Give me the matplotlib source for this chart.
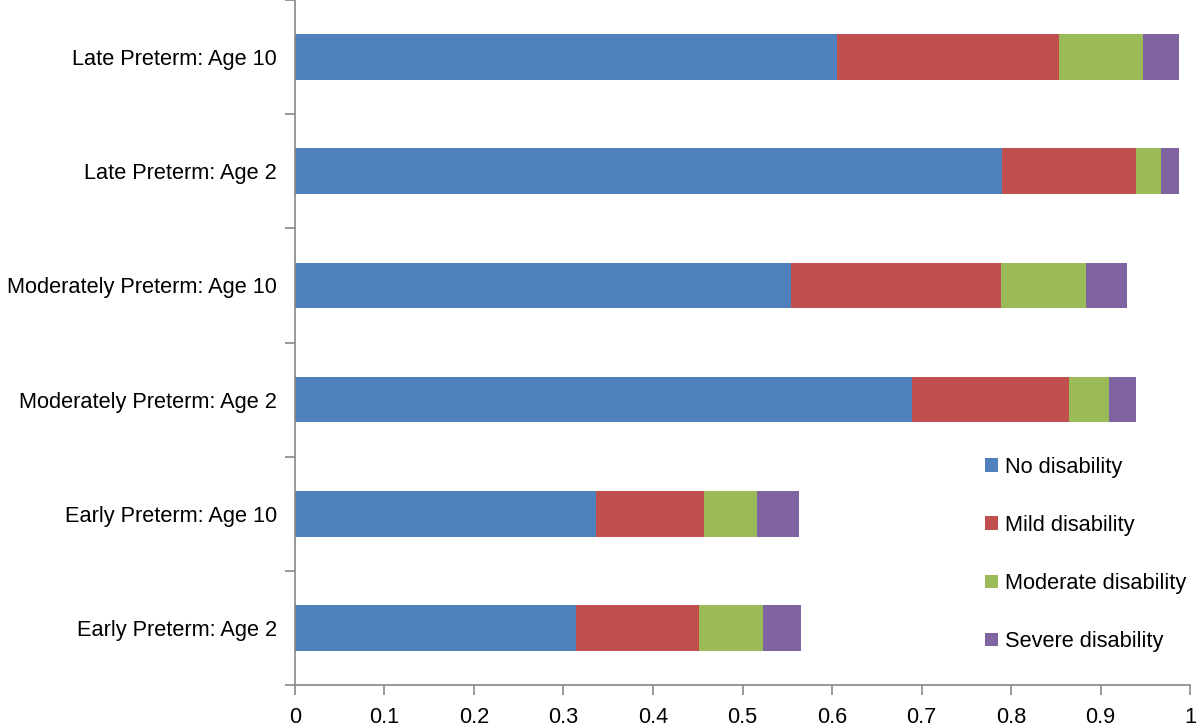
import matplotlib
matplotlib.use('Agg')
import matplotlib.pyplot as plt
import numpy as np

plt.rcParams['font.family'] = ['Liberation Sans', 'DejaVu Sans']

# categories bottom -> top
groups = ['Early Preterm: Age 2', 'Early Preterm: Age 10',
          'Moderately Preterm: Age 2', 'Moderately Preterm: Age 10',
          'Late Preterm: Age 2', 'Late Preterm: Age 10']

no_dis = [0.314, 0.336, 0.689, 0.554, 0.790, 0.606]
mild_dis = [0.137, 0.121, 0.176, 0.235, 0.150, 0.248]
moderate_dis = [0.072, 0.059, 0.045, 0.095, 0.028, 0.093]
severe_dis = [0.042, 0.047, 0.030, 0.046, 0.020, 0.041]

series = [('No disability', no_dis, '#4F81BD'),
          ('Mild disability', mild_dis, '#C0504D'),
          ('Moderate disability', moderate_dis, '#9BBB59'),
          ('Severe disability', severe_dis, '#8064A2')]

fig = plt.figure(figsize=(12, 7.28), dpi=100)
ax = fig.add_axes([0.2458, 0.059, 0.7459, 0.941])

y = np.arange(len(groups))
left = np.zeros(len(groups))
for name, vals, col in series:
    ax.barh(y, vals, left=left, height=0.4, color=col, label=name)
    left += np.array(vals)

ax.set_xlim(0, 1)
ax.set_ylim(-0.5, len(groups) - 0.5)
ax.set_xticks(np.arange(0, 1.01, 0.1))
ax.set_xticklabels(['0', '0.1', '0.2', '0.3', '0.4', '0.5', '0.6', '0.7', '0.8', '0.9', '1'])
ax.set_yticks(y)
ax.set_yticklabels(groups)
ax.set_yticks(np.arange(-0.5, len(groups), 1), minor=True)

for s in ['top', 'right']:
    ax.spines[s].set_visible(False)
for s in ['left', 'bottom']:
    ax.spines[s].set_color('#888888')
    ax.spines[s].set_linewidth(1.2)

ax.tick_params(axis='y', which='major', length=0, pad=13, labelsize=15.7)
ax.tick_params(axis='y', which='minor', length=7, color='#888888', width=1.2)
ax.tick_params(axis='x', which='major', length=7, color='#888888', width=1.2,
               labelsize=15.7, pad=9)

fig.legend(*ax.get_legend_handles_labels(), loc='upper left',
           bbox_to_anchor=(985 / 1200, 1 - 457 / 728), frameon=False,
           fontsize=15.7, handlelength=0.6, handleheight=0.6, handletextpad=0.3,
           labelspacing=1.7, borderpad=0, borderaxespad=0)

fig.savefig('out.png', dpi=100)
